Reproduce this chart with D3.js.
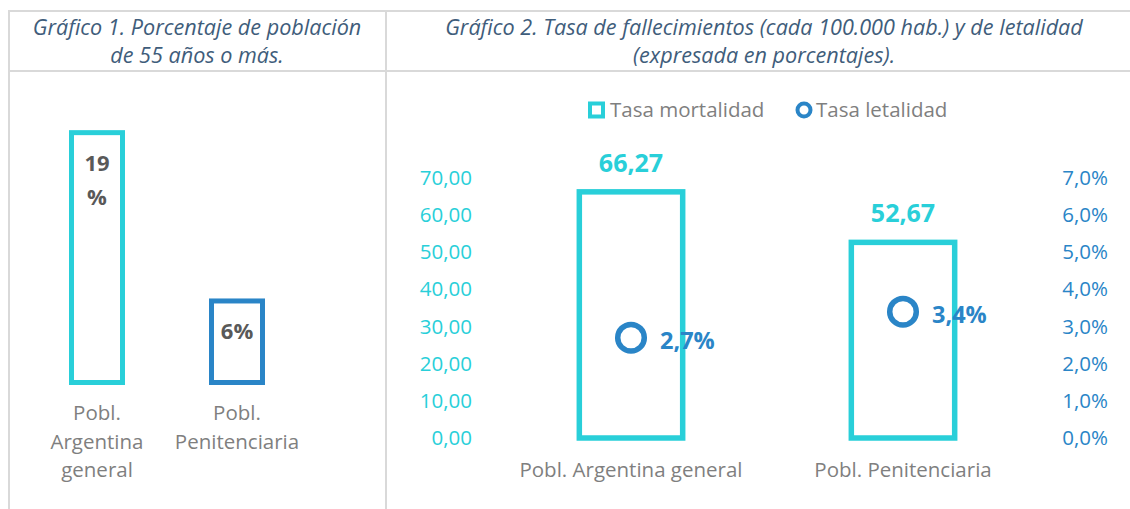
<!DOCTYPE html>
<html>
<head>
<meta charset="utf-8">
<script src="https://cdn.jsdelivr.net/npm/d3@7"></script>
<style>
  body { margin: 0; background: #fff; }
  svg text { font-family: "Open Sans", Lato, sans-serif; }
</style>
</head>
<body>
<div id="chart"></div>
<script>
// Gráfico 1 data
const categories = ["Pobl. Argentina general", "Pobl. Penitenciaria"];
const pct55 = [0.19, 0.062];
const pct55Labels = [["19", "%"], ["6%"]];

// Gráfico 2 data
const mortalidad = [66.27, 52.67];
const letalidad = [0.027, 0.034];
const leftTicks = [0, 10, 20, 30, 40, 50, 60, 70];
const rightTicks = [0, 0.01, 0.02, 0.03, 0.04, 0.05, 0.06, 0.07];
const legendItems = ["Tasa mortalidad", "Tasa letalidad"];

const cyan = "#29cfd9";
const blue = "#2a85c7";
const grey = "#7f7f7f";
const dark = "#595959";
const titleColor = "#3f5d7b";
const lineColor = "#d9d9d9";

const W = 1130, H = 509;
const svg = d3.select("#chart").append("svg")
    .attr("width", W)
    .attr("height", H);

// table grid
svg.append("line").attr("x1", 9).attr("x2", W).attr("y1", 11).attr("y2", 11);
svg.append("line").attr("x1", 9).attr("x2", W).attr("y1", 71).attr("y2", 71);
svg.append("line").attr("x1", 9).attr("x2", 9).attr("y1", 10).attr("y2", H);
svg.append("line").attr("x1", 386).attr("x2", 386).attr("y1", 10).attr("y2", H);
svg.selectAll("line").attr("stroke", lineColor).attr("stroke-width", 2);

// titles
function title(x, lines) {
  const t = svg.append("text")
      .attr("text-anchor", "middle")
      .attr("font-style", "italic")
      .attr("font-size", 21.6)
      .attr("fill", titleColor);
  lines.forEach((l, i) => {
    t.append("tspan").attr("x", x).attr("y", 35 + i * 27.5).text(l);
  });
}
title(197, ["Gráfico 1. Porcentaje de población", "de 55 años o más."]);
title(764, ["Gráfico 2. Tasa de fallecimientos (cada 100.000 hab.) y de letalidad", "(expresada en porcentajes)."]);

// ---------- Gráfico 1 ----------
const x1 = d3.scaleBand()
    .domain(categories)
    .range([27, 307])
    .paddingInner(0.6)
    .paddingOuter(0.3);
const y1 = d3.scaleLinear().domain([0, 0.2]).range([382.5, 382.5 - 263]);

const g1 = svg.append("g");
g1.selectAll("rect")
    .data(pct55)
    .enter()
    .append("rect")
    .attr("x", (d, i) => x1(categories[i]) + 2.5)
    .attr("width", x1.bandwidth() - 5)
    .attr("y", d => y1(d))
    .attr("height", d => y1(0) - y1(d))
    .attr("fill", "#fff")
    .attr("stroke", (d, i) => i === 0 ? cyan : blue)
    .attr("stroke-width", 5);

// value labels inside bars
pct55.forEach((d, i) => {
  const cx = x1(categories[i]) + x1.bandwidth() / 2;
  const t = g1.append("text")
      .attr("text-anchor", "middle")
      .attr("font-weight", "bold")
      .attr("font-size", 22)
      .attr("fill", dark);
  pct55Labels[i].forEach((l, j) => {
    t.append("tspan").attr("x", cx).attr("y", y1(d) + 38 + j * 34).text(l);
  });
});

// category labels (wrapped word by word)
categories.forEach((c, i) => {
  const cx = x1(c) + x1.bandwidth() / 2;
  const t = g1.append("text")
      .attr("text-anchor", "middle")
      .attr("font-size", 20.5)
      .attr("fill", grey);
  c.split(" ").forEach((w, j) => {
    t.append("tspan").attr("x", cx).attr("y", 420 + j * 28.5).text(w);
  });
});

// ---------- Gráfico 2 ----------
const x2 = d3.scaleBand()
    .domain(categories)
    .range([495, 1039])
    .paddingInner(0.62)
    .paddingOuter(0.31);
const yL = d3.scaleLinear().domain([0, 70]).range([438, 178]);
const yR = d3.scaleLinear().domain([0, 0.07]).range([438, 178]);

const g2 = svg.append("g");

const axisL = g2.append("g")
    .attr("transform", "translate(480,0)")
    .call(d3.axisLeft(yL).tickValues(leftTicks).tickSize(0).tickPadding(8)
      .tickFormat(d => d3.format(".2f")(d).replace(".", ",")));
const axisR = g2.append("g")
    .attr("transform", "translate(1053,0)")
    .call(d3.axisRight(yR).tickValues(rightTicks).tickSize(0).tickPadding(0)
      .tickFormat(d => d3.format(".1%")(d).replace(".", ",")));
axisL.select(".domain").remove();
axisR.select(".domain").remove();
axisL.selectAll("text").attr("fill", cyan).attr("font-size", 20.5).attr("font-family", "'Open Sans', sans-serif");
axisR.selectAll("text").attr("fill", blue).attr("font-size", 20.5).attr("font-family", "'Open Sans', sans-serif")
    .attr("text-anchor", "end").attr("x", 55);

g2.selectAll(".bar")
    .data(mortalidad)
    .enter()
    .append("rect")
    .attr("class", "bar")
    .attr("x", (d, i) => x2(categories[i]))
    .attr("width", x2.bandwidth())
    .attr("y", d => yL(d))
    .attr("height", d => yL(0) - yL(d))
    .attr("fill", "#fff")
    .attr("stroke", cyan)
    .attr("stroke-width", 5.5);

g2.selectAll(".barLabel")
    .data(mortalidad)
    .enter()
    .append("text")
    .attr("class", "barLabel")
    .attr("x", (d, i) => x2(categories[i]) + x2.bandwidth() / 2)
    .attr("y", d => yL(d) - 20)
    .attr("text-anchor", "middle")
    .attr("font-weight", "bold")
    .attr("font-size", 25)
    .attr("fill", cyan)
    .text(d => d3.format(".2f")(d).replace(".", ","));

g2.selectAll(".pt")
    .data(letalidad)
    .enter()
    .append("circle")
    .attr("class", "pt")
    .attr("cx", (d, i) => x2(categories[i]) + x2.bandwidth() / 2)
    .attr("cy", d => yR(d))
    .attr("r", 13.3)
    .attr("fill", "#fff")
    .attr("stroke", blue)
    .attr("stroke-width", 5.5);

g2.selectAll(".ptLabel")
    .data(letalidad)
    .enter()
    .append("text")
    .attr("class", "ptLabel")
    .attr("x", (d, i) => x2(categories[i]) + x2.bandwidth() / 2 + 29)
    .attr("y", d => yR(d) + 11)
    .attr("font-weight", "bold")
    .attr("font-size", 23.5)
    .attr("fill", blue)
    .text(d => d3.format(".1%")(d).replace(".", ","));

g2.selectAll(".cat")
    .data(categories)
    .enter()
    .append("text")
    .attr("class", "cat")
    .attr("x", d => x2(d) + x2.bandwidth() / 2)
    .attr("y", 477)
    .attr("text-anchor", "middle")
    .attr("font-size", 20.5)
    .attr("fill", grey)
    .text(d => d);

// legend
const lg = g2.append("g");
lg.append("rect")
    .attr("x", 590).attr("y", 103.5).attr("width", 13).attr("height", 13)
    .attr("fill", "#fff").attr("stroke", cyan).attr("stroke-width", 4);
lg.append("text").attr("x", 610).attr("y", 117).attr("font-size", 20.5)
    .attr("fill", grey).text(legendItems[0]);
lg.append("circle")
    .attr("cx", 804).attr("cy", 110).attr("r", 6.5)
    .attr("fill", "#fff").attr("stroke", blue).attr("stroke-width", 4);
lg.append("text").attr("x", 816).attr("y", 117).attr("font-size", 20.5)
    .attr("fill", grey).text(legendItems[1]);
</script>
</body>
</html>
